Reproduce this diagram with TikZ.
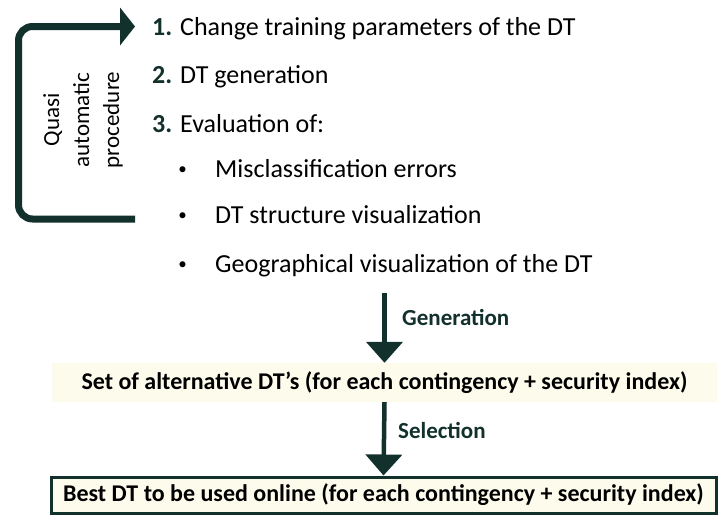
\documentclass[tikz,border=0pt]{standalone}
\usepackage{fontspec}
\setmainfont{Carlito}
\usetikzlibrary{arrows.meta}
\definecolor{deepteal}{HTML}{12302C}
\definecolor{paleyellow}{HTML}{FDFCEC}
\tikzset{
  listline/.style={anchor=base west, inner sep=0pt, font=\fontsize{26}{30}\selectfont},
  bulletmark/.style={anchor=center, inner sep=0pt, font=\fontsize{17}{20}\selectfont},
  loopline/.style={draw=deepteal, line width=7pt, rounded corners=14pt},
  downarrow/.style={draw=deepteal, line width=4.5pt, -{Triangle[length=21pt,width=36pt]}},
  arrowlabel/.style={anchor=base west, inner sep=0pt, text=deepteal, font=\fontsize{23}{27}\selectfont\bfseries},
  resultbox/.style={fill=paleyellow, minimum width=665pt, inner sep=0pt, font=\fontsize{24}{28}\selectfont\bfseries}
}
\begin{document}
\begin{tikzpicture}[x=1pt, y=-1pt]
\useasboundingbox (0,0) rectangle (721,515);

% numbered steps
\node[listline] (s1) at (152,35) {\textcolor{deepteal}{\bfseries 1.} Change training parameters of the DT};
\node[listline] (s2) at (152,83) {\textcolor{deepteal}{\bfseries 2.} DT generation};
\node[listline] (s3) at (152,132) {\textcolor{deepteal}{\bfseries 3.} Evaluation of:};

% evaluation items
\node[bulletmark] (b1) at (182.7,170.5) {•};
\node[listline] (e1) at (215,177) {Misclassification errors};
\node[bulletmark] (b2) at (182.7,216.5) {•};
\node[listline] (e2) at (215,223) {DT structure visualization};
\node[bulletmark] (b3) at (182.7,265.5) {•};
\node[listline] (e3) at (215,272) {Geographical visualization of the DT};

% iteration loop
\coordinate (loopend) at (135,219);
\coordinate (loopstart) at (135,26.5);
\draw[loopline] (loopend) -- (18.5,219) -- (18.5,26.5) -- (120,26.5);
\fill[deepteal] (120,7.5) -- (loopstart) -- (120,45.5) -- cycle;
\node[rotate=90, align=center, inner sep=0pt, font=\fontsize{23}{30}\selectfont] (loop) at (83,120) {Quasi\\automatic\\procedure};

% results
\node[resultbox, minimum height=39pt] (set) at (384.5,382.5) {Set of alternative DT’s (for each contingency + security index)};
\node[resultbox, draw=deepteal, line width=3pt, minimum height=36pt] (best) at (383.5,495) {Best DT to be used online (for each contingency + security index)};

\coordinate (gentop) at (384.5,293);
\draw[downarrow] (gentop) -- (set.north);
\draw[downarrow] (set.south) -- (best.north);
\node[arrowlabel] (gen) at (402,325) {Generation};
\node[arrowlabel] (sel) at (398,438) {Selection};
\end{tikzpicture}
\end{document}
